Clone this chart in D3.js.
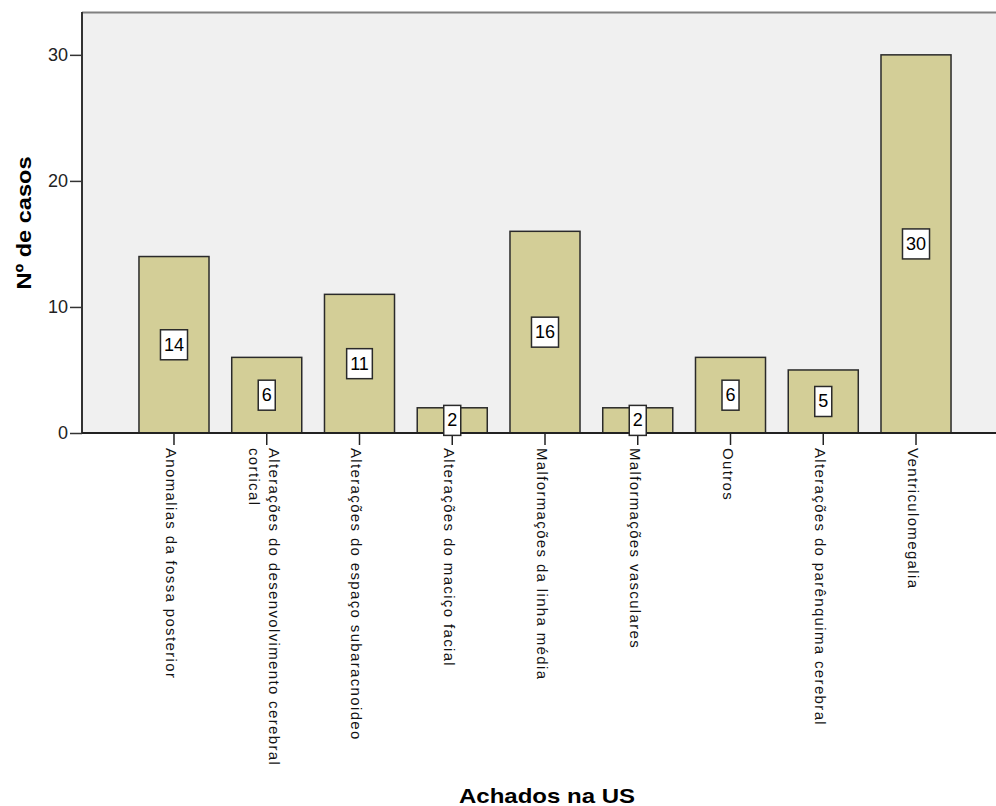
<!DOCTYPE html>
<html>
<head>
<meta charset="utf-8">
<script src="https://cdn.jsdelivr.net/npm/d3@7"></script>
<style>
  body { margin: 0; background: #ffffff; }
  svg { display: block; }
</style>
</head>
<body>
<svg id="chart" width="996" height="806"></svg>
<script>
// ---- data ----
const categories = [
  "Anomalias da fossa posterior",
  "Alterações do desenvolvimento cerebral cortical",
  "Alterações do espaço subaracnoideo",
  "Alterações do maciço facial",
  "Malformações da linha média",
  "Malformações vasculares",
  "Outros",
  "Alterações do parênquima cerebral",
  "Ventriculomegalia"
];
const counts = [14, 6, 11, 2, 16, 2, 6, 5, 30];
const yTicks = [0, 10, 20, 30];
const xTitle = "Achados na US";
const yTitle = "Nº de casos";

// ---- layout ----
const svg = d3.select("#chart");
const plotLeft = 82, plotTop = 12, plotRight = 996, plotBottom = 433;
const FONT = "'Liberation Sans', Arial, Helvetica, sans-serif";

const x = d3.scaleBand()
  .domain(categories)
  .range([92.6, 997.4])
  .paddingInner(0.245)
  .paddingOuter(0.5);

const y = d3.scaleLinear()
  .domain([0, 33.4])
  .range([plotBottom, plotTop]);

// plot background
svg.append("rect")
  .attr("x", plotLeft).attr("y", plotTop)
  .attr("width", plotRight - plotLeft).attr("height", plotBottom - plotTop)
  .attr("fill", "#f0f0f0");

// top frame line
svg.append("line")
  .attr("x1", plotLeft).attr("x2", plotRight)
  .attr("y1", plotTop + 0.5).attr("y2", plotTop + 0.5)
  .attr("stroke", "#808080").attr("stroke-width", 2);

const data = categories.map((c, i) => ({ c, v: counts[i] }));

// bars
svg.append("g").selectAll("rect")
  .data(data)
  .join("rect")
  .attr("x", d => x(d.c))
  .attr("y", d => y(d.v))
  .attr("width", x.bandwidth())
  .attr("height", d => y(0) - y(d.v))
  .attr("fill", "#d3ce97")
  .attr("stroke", "#2a2a2a")
  .attr("stroke-width", 1.5);

// y axis
const yAxis = svg.append("g")
  .attr("transform", `translate(${plotLeft},0)`)
  .call(d3.axisLeft(y).tickValues(yTicks).tickSize(12).tickSizeOuter(0).tickPadding(2));
yAxis.select(".domain").remove();
yAxis.append("line")
  .attr("x1", 0).attr("x2", 0)
  .attr("y1", plotTop).attr("y2", plotBottom)
  .attr("stroke", "#333").attr("stroke-width", 2);
yAxis.selectAll(".tick line").attr("stroke", "#333").attr("stroke-width", 1.5);
yAxis.selectAll(".tick text")
  .attr("fill", "#222")
  .style("font-family", FONT)
  .style("font-size", "18px");

// x axis
const xAxis = svg.append("g")
  .attr("transform", `translate(0,${plotBottom})`)
  .call(d3.axisBottom(x).tickSize(12).tickSizeOuter(0).tickFormat(""));
xAxis.select(".domain").remove();
xAxis.append("line")
  .attr("x1", plotLeft).attr("x2", plotRight)
  .attr("y1", 0).attr("y2", 0)
  .attr("stroke", "#222").attr("stroke-width", 2);
xAxis.selectAll(".tick line").attr("stroke", "#222").attr("stroke-width", 1.5);

// x tick labels (rotated, wrapped)
const maxLen = 350;
const labelG = svg.append("g");
data.forEach(d => {
  const cx = x(d.c) + x.bandwidth() / 2;
  const g = labelG.append("g")
    .attr("transform", `translate(${cx},448) rotate(90)`);
  const probe = g.append("text")
    .style("font-family", FONT).style("font-size", "15px")
    .style("letter-spacing", "1.35px");
  const words = d.c.split(" ");
  const lines = [];
  let cur = "";
  words.forEach(w => {
    const test = cur ? cur + " " + w : w;
    probe.text(test);
    if (probe.node().getComputedTextLength() > maxLen && cur) {
      lines.push(cur);
      cur = w;
    } else {
      cur = test;
    }
  });
  lines.push(cur);
  probe.remove();
  const n = lines.length;
  lines.forEach((ln, i) => {
    g.append("text")
      .attr("x", 0)
      .attr("y", 8 + (i - (n - 1) / 2) * 20)
      .attr("fill", "#111")
      .style("font-family", FONT)
      .style("font-size", "15px")
      .style("letter-spacing", "1.35px")
      .text(ln);
  });
});

// value labels
const vg = svg.append("g");
data.forEach(d => {
  const cx = x(d.c) + x.bandwidth() / 2;
  const cy = y(d.v / 2);
  const t = vg.append("text")
    .attr("x", cx).attr("y", cy)
    .attr("text-anchor", "middle")
    .attr("dominant-baseline", "central")
    .attr("fill", "#000")
    .style("font-family", FONT)
    .style("font-size", "18px")
    .text(d.v);
  const w = t.node().getComputedTextLength() + 7;
  vg.insert("rect", () => t.node())
    .attr("x", cx - w / 2).attr("y", cy - 15)
    .attr("width", w).attr("height", 30)
    .attr("fill", "#ffffff")
    .attr("stroke", "#2a2a2a")
    .attr("stroke-width", 1.5);
});

// axis titles
svg.append("text")
  .attr("transform", "translate(31,223) rotate(-90)")
  .attr("text-anchor", "middle")
  .attr("fill", "#000")
  .attr("textLength", 133)
  .attr("lengthAdjust", "spacingAndGlyphs")
  .style("font-family", FONT)
  .style("font-size", "21px")
  .style("font-weight", "bold")
  .text(yTitle);

svg.append("text")
  .attr("x", 547).attr("y", 803)
  .attr("text-anchor", "middle")
  .attr("fill", "#000")
  .attr("textLength", 176)
  .attr("lengthAdjust", "spacingAndGlyphs")
  .style("font-family", FONT)
  .style("font-size", "21px")
  .style("font-weight", "bold")
  .text(xTitle);
</script>
</body>
</html>
